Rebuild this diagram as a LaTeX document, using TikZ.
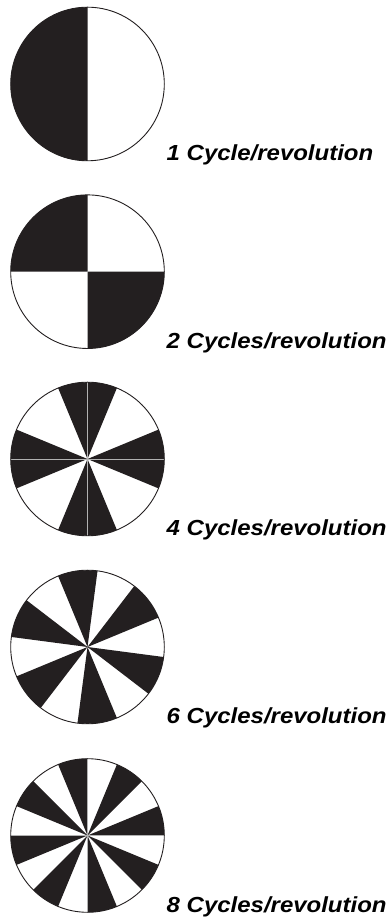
\documentclass[tikz,border=0pt]{standalone}
\usepackage{fontspec}
\setsansfont{Liberation Sans}
\usetikzlibrary{calc}
\definecolor{ink}{HTML}{231F20}

\begin{document}
\begin{tikzpicture}[x=1pt, y=1pt, sector/.style={fill=ink}, rim/.style={draw=ink, line width=0.9pt}, guide/.style={draw=gray!60, line width=0.4pt}, cycles/.style={font=\sffamily\bfseries\itshape\fontsize{21.8}{24}\selectfont, anchor=base west, inner sep=0pt, xscale=1.1, transform shape}]
        \useasboundingbox (0,0) rectangle (388,920);
        % Define the radius of every wheel
        \def\radius{76.8}

        % Centres of the five wheels
        \coordinate (w1) at (87.5,836);
        \coordinate (w2) at (87.5,648.3);
        \coordinate (w3) at (87.5,461);
        \coordinate (w4) at (87.5,273);
        \coordinate (w5) at (87.5,84.5);

        % Draw the black sectors and the rim of each wheel
        \foreach \n/\off [count=\k] in {1/90, 2/90, 4/-22.5, 6/22.5, 8/0}
        {
          \pgfmathsetmacro{\w}{180/\n}
          \pgfmathtruncatemacro{\last}{\n-1}
          \foreach \j in {0,...,\last}
          {
            \pgfmathsetmacro{\a}{\off+\j*360/\n}
            \fill[sector] (w\k) -- ++(\a:\radius) arc[start angle=\a, delta angle=\w, radius=\radius] -- cycle;
          }
        }

        % Faint guide lines through the centre
        \draw[guide] ($(w3)+(0,\radius)$) -- ($(w3)+(0,-\radius)$);
        \draw[guide] ($(w3)+(-\radius,0)$) -- ($(w3)+(\radius,0)$);
        \draw[guide] ($(w5)+(0,\radius)$) -- ($(w5)+(0,-\radius)$);
        \draw[guide] ($(w5)+(-\radius,0)$) -- ($(w5)+(\radius,0)$);

        \foreach \k in {1,...,5}
        {
          \draw[rim] (w\k) circle[radius=\radius];
        }

        % Labels
        \node[cycles] (l1) at ($(w1)+(79,-\radius)$) {1 Cycle/revolution};
        \node[cycles] (l2) at ($(w2)+(79,-\radius)$) {2 Cycles/revolution};
        \node[cycles] (l3) at ($(w3)+(79,-\radius)$) {4 Cycles/revolution};
        \node[cycles] (l4) at ($(w4)+(79,-\radius)$) {6 Cycles/revolution};
        \node[cycles] (l5) at ($(w5)+(79,-\radius)$) {8 Cycles/revolution};
      \end{tikzpicture}
\end{document}
